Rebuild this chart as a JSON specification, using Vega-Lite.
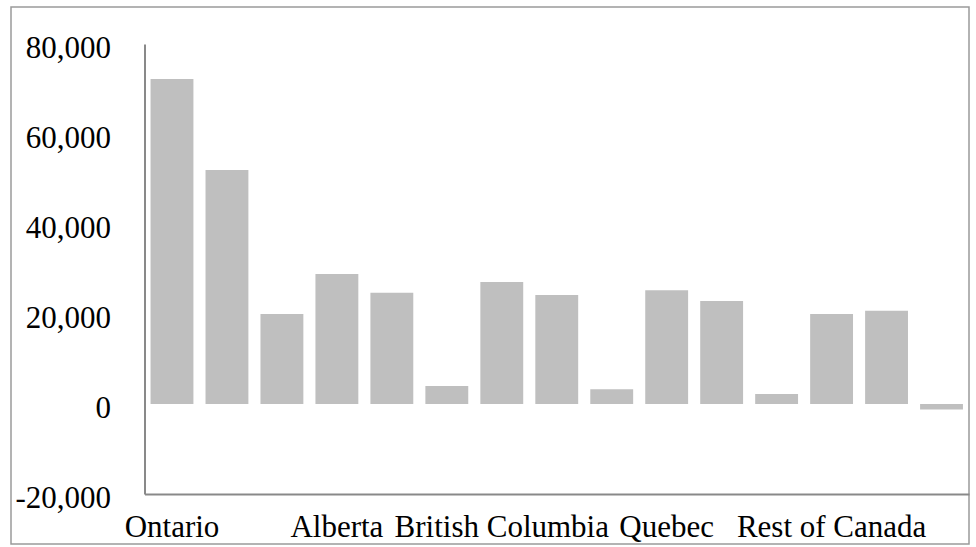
{
  "$schema": "https://vega.github.io/schema/vega-lite/v6.json",
  "width": 958,
  "height": 537,
  "autosize": "none",
  "padding": {"left": 11, "top": 7, "right": 7, "bottom": 3},
  "background": "white",
  "config": {
    "view": {"stroke": "#9a9a9a", "strokeWidth": 1.5},
    "font": "Liberation Serif"
  },
  "data": {
    "values": [
      {"bar": 1, "region": "Ontario", "value": 72200},
      {"bar": 2, "region": "Ontario", "value": 52000},
      {"bar": 3, "region": "Ontario", "value": 20000},
      {"bar": 4, "region": "Alberta", "value": 28900},
      {"bar": 5, "region": "Alberta", "value": 24700},
      {"bar": 6, "region": "Alberta", "value": 4000},
      {"bar": 7, "region": "British Columbia", "value": 27100},
      {"bar": 8, "region": "British Columbia", "value": 24200},
      {"bar": 9, "region": "British Columbia", "value": 3300},
      {"bar": 10, "region": "Quebec", "value": 25300},
      {"bar": 11, "region": "Quebec", "value": 22900},
      {"bar": 12, "region": "Quebec", "value": 2200},
      {"bar": 13, "region": "Rest of Canada", "value": 20000},
      {"bar": 14, "region": "Rest of Canada", "value": 20700},
      {"bar": 15, "region": "Rest of Canada", "value": -1200}
    ]
  },
  "mark": {"type": "bar", "color": "#bfbfbf"},
  "encoding": {
    "x": {
      "field": "bar",
      "type": "ordinal",
      "scale": {"range": [133.5, 958], "paddingInner": 0.22, "paddingOuter": 0.11},
      "axis": {
        "title": null,
        "orient": "bottom",
        "offset": -50,
        "labelAngle": 0,
        "ticks": false,
        "grid": false,
        "labelExpr": "datum.value == 1 ? 'Ontario' : datum.value == 4 ? 'Alberta' : datum.value == 7 ? 'British Columbia' : datum.value == 10 ? 'Quebec' : datum.value == 13 ? 'Rest of Canada' : ''",
        "labelOverlap": false,
        "labelBound": false,
        "labelFlush": false,
        "labelLimit": 1000,
        "labelFont": "Liberation Serif",
        "labelFontSize": 31,
        "labelColor": "#000000",
        "labelPadding": 18,
        "domainColor": "#898989",
        "domainWidth": 2
      }
    },
    "y": {
      "field": "value",
      "type": "quantitative",
      "scale": {"domain": [-20000, 80000], "range": [487, 37], "nice": false},
      "axis": {
        "title": null,
        "values": [-20000, 0, 20000, 40000, 60000, 80000],
        "labelExpr": "replace(format(datum.value, ',.0f'), '\u2212', '-')",
        "offset": -133.5,
        "grid": false,
        "ticks": false,
        "labelFont": "Liberation Serif",
        "labelFontSize": 31,
        "labelColor": "#000000",
        "labelPadding": 34,
        "labelOffset": 4,
        "labelBaseline": "middle",
        "labelFlush": false,
        "labelLimit": 1000,
        "domainColor": "#898989",
        "domainWidth": 2
      }
    }
  }
}
